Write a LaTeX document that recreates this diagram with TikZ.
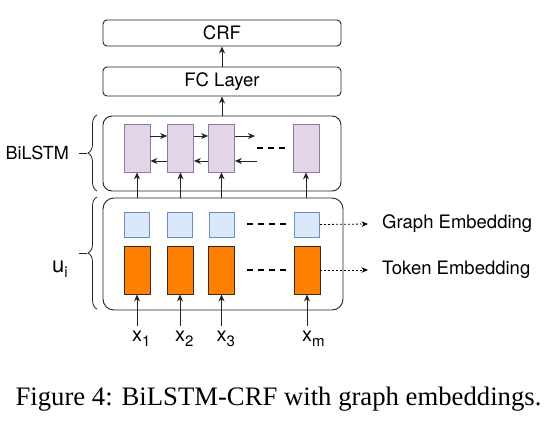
\documentclass[tikz,border=0pt]{standalone}
\usepackage{fontspec}
\setmainfont{Liberation Serif}
\newfontfamily\hv{TeX Gyre Heros}
\usetikzlibrary{arrows.meta,decorations.pathreplacing,calc}
\definecolor{lstmfill}{HTML}{E1D5E7}
\definecolor{lstmdraw}{HTML}{9673A6}
\definecolor{gfill}{HTML}{DAE8FC}
\definecolor{gdraw}{HTML}{6C8EBF}
\definecolor{ofill}{HTML}{FF8000}
\definecolor{odraw}{HTML}{3A2A1A}
\definecolor{lnc}{HTML}{222222}
\tikzset{
  lbl/.style={font=\hv\fontsize{18.5}{20}\selectfont, text=black},
  layerbox/.style={draw=lnc, line width=0.9pt, rounded corners=4pt, minimum width=238pt, inner sep=0pt},
  groupbox/.style={draw=lnc, line width=0.9pt, rounded corners=#1},
  lstm/.style={draw=lstmdraw, fill=lstmfill, line width=0.8pt, minimum width=26pt, minimum height=48pt, inner sep=0pt},
  gemb/.style={draw=gdraw, fill=gfill, line width=0.8pt, minimum width=25pt, minimum height=25pt, inner sep=0pt},
  temb/.style={draw=odraw, fill=ofill, line width=0.9pt, minimum width=26pt, minimum height=48pt, inner sep=0pt},
  arr/.style={draw=lnc, line width=0.9pt, -{Stealth[length=7pt,width=6pt]}},
  dots3/.style={draw=black, line width=1.5pt, dash pattern=on 6pt off 5pt},
  dotarr/.style={draw=black, line width=0.8pt, dash pattern=on 2pt off 2pt, -{Stealth[length=6.5pt,width=5.5pt]}},
  brc/.style={draw=lnc, line width=0.8pt, decorate, decoration={brace, amplitude=9pt}},
  xlab/.style={font=\hv\fontsize{20}{20}\selectfont, inner sep=4pt, anchor=base},
}
\newcommand{\subsf}[1]{\rlap{\raisebox{-5pt}{\fontsize{15}{15}\selectfont #1}}}
\begin{document}
\begin{tikzpicture}[x=1pt,y=-1pt]
\useasboundingbox (0,0) rectangle (552,421);

% top layers
\node[layerbox, minimum height=26pt, lbl] (crf) at (222,33) {CRF};
\node[layerbox, minimum height=29pt, lbl] (fc) at (222,81.5) {FC Layer};

% group boxes
\node[groupbox=9pt, minimum width=238pt, minimum height=75pt, inner sep=0pt] (bl) at (222,153.5) {};
\node[groupbox=11pt, minimum width=240pt, minimum height=112pt, inner sep=0pt] (ub) at (223,254) {};

% LSTM cells
\node[lstm] (c1) at (137,148) {};
\node[lstm] (c2) at (180.5,148) {};
\node[lstm] (c3) at (221.5,148) {};
\node[lstm] (c4) at (306,148) {};

% graph embeddings
\node[gemb] (g1) at (137,224.5) {};
\node[gemb] (g2) at (180,224.5) {};
\node[gemb] (g3) at (221.5,224.5) {};
\node[gemb] (g4) at (307,224.5) {};

% token embeddings
\node[temb] (t1) at (137,270) {};
\node[temb] (t2) at (180,270) {};
\node[temb] (t3) at (221.5,270) {};
\node[temb] (t4) at (307,270) {};

% arrows up
\draw[arr] (fc.north) -- (crf.south);
\draw[arr] (bl.north -| fc.north) -- (fc.south);
\foreach \i in {1,2,3,4} {
  \draw[arr] (ub.north -| c\i.south) -- (c\i.south);
}

% recurrent arrows
\coordinate (fy) at (0,136);
\coordinate (by) at (0,161);
\coordinate (fend) at (255,136);
\coordinate (bstart) at (257,161);
\draw[arr] (c1.east |- fy) -- (c2.west |- fy);
\draw[arr] (c2.east |- fy) -- (c3.west |- fy);
\draw[arr] (c3.east |- fy) -- (fend);
\draw[arr] (bstart) -- (c3.east |- by);
\draw[arr] (c3.west |- by) -- (c2.east |- by);
\draw[arr] (c2.west |- by) -- (c1.east |- by);

% ellipses
\coordinate (d1a) at (257,148); \coordinate (d1b) at (286,148);
\coordinate (d2a) at (247,224); \coordinate (d2b) at (288,224);
\coordinate (d3a) at (247,270); \coordinate (d3b) at (288,270);
\draw[dots3] (d1a) -- (d1b);
\draw[dots3] (d2a) -- (d2b);
\draw[dots3] (d3a) -- (d3b);

% right labels
\coordinate (ge) at (368,224);
\coordinate (te) at (368,270);
\draw[dotarr] (g4.east) -- (ge);
\draw[dotarr] (t4.east |- te) -- (te);
\node[lbl, anchor=west, inner sep=0pt] (gl) at (382,224) {Graph Embedding};
\node[lbl, anchor=west, inner sep=0pt] (tl) at (382,270) {Token Embedding};

% inputs
\node[xlab] (x1) at (137,341) {x\subsf{1}};
\node[xlab] (x2) at (180,341) {x\subsf{2}};
\node[xlab] (x3) at (221.5,341) {x\subsf{3}};
\node[xlab] (x4) at (307,341) {x\subsf{m}};
\foreach \i in {1,2,3,4} {
  \draw[arr] (x\i.north) -- (t\i.south);
}

% braces and left labels
\coordinate (b1a) at (97,191); \coordinate (b1b) at (97,115);
\coordinate (b2a) at (97,309); \coordinate (b2b) at (97,197);
\draw[brc] (b1a) -- (b1b);
\draw[brc] (b2a) -- (b2b);
\coordinate (t1a) at (87,153); \coordinate (t1b) at (79,153);
\coordinate (t2a) at (87,253); \coordinate (t2b) at (79,253);
\draw[draw=lnc, line width=0.8pt] (t1a) -- (t1b);
\draw[draw=lnc, line width=0.8pt] (t2a) -- (t2b);
\node[font=\hv\fontsize{18}{20}\selectfont, anchor=east, inner sep=0pt] (bil) at (69,153) {BiLSTM};
\node[font=\hv\fontsize{22}{22}\selectfont, anchor=base east, inner sep=0pt] (ui) at (68,272) {u\raisebox{-5pt}{\fontsize{15}{15}\selectfont i}};

% caption
\node[font=\fontsize{26.7}{30}\selectfont, anchor=base, inner sep=0pt] (cap) at (278.5,405) {Figure 4: BiLSTM-CRF with graph embeddings.};
\end{tikzpicture}
\end{document}
